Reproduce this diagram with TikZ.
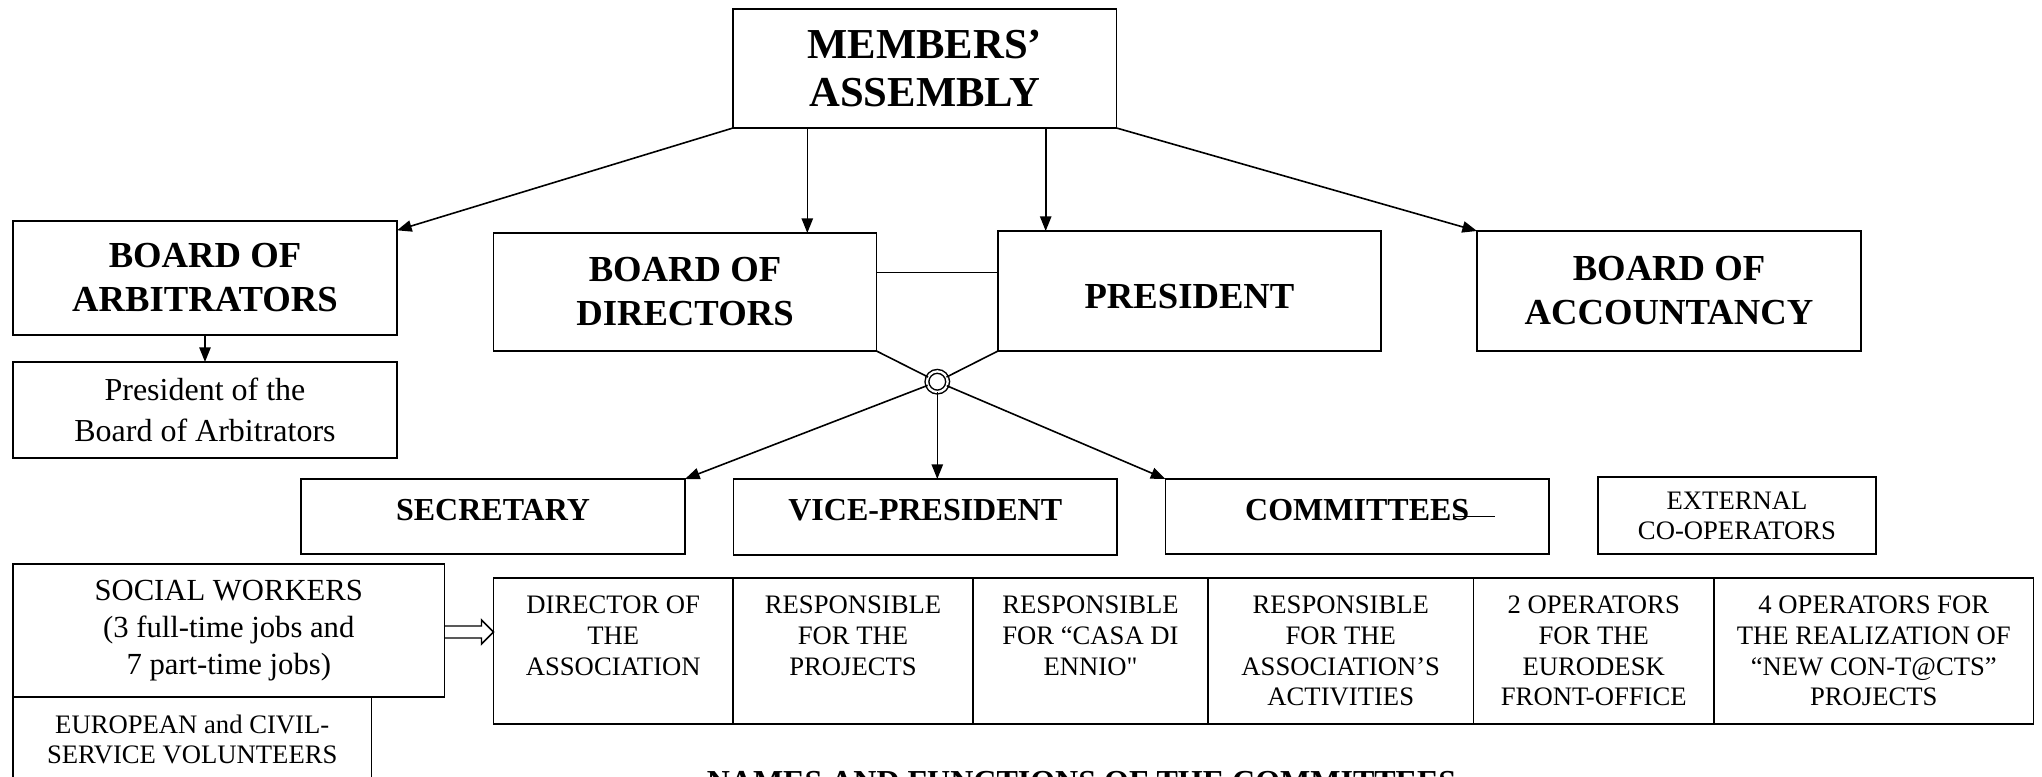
\documentclass[tikz,border=0pt]{standalone}
\usepackage{fontspec}
\setmainfont{Liberation Serif}
\usetikzlibrary{arrows.meta,calc}
\newcommand\rbox[7]{\node[box,#6,minimum width={(#4-#2)*0.75pt},minimum height={(#5-#3)*0.75pt}] (#1) at ({(#2+#4)/2},{(#3+#5)/2}) {#7};}
\begin{document}
\begin{tikzpicture}[x=0.75pt,y=-0.75pt,
  box/.style={draw, line width=1.2pt, inner sep=0pt, outer sep=0pt, align=center},
  conn/.style={line width=1.2pt},
  arr/.style={conn, -{Triangle[length=11pt,width=8.5pt]}},
  blk/.style={line width=1.1pt, line join=miter},
  junction/.style={circle, draw, double, line width=1.1pt, double distance=1.7pt, minimum size=15.5pt, inner sep=0pt, outer sep=0pt},
  fmem/.style={font=\fontsize{32}{36}\selectfont\bfseries},
  fbig/.style={font=\fontsize{27.5}{33}\selectfont\bfseries},
  fmed/.style={font=\fontsize{24}{28}\selectfont\bfseries},
  fpba/.style={font=\fontsize{24}{31}\selectfont},
  fsw/.style={font=\fontsize{23}{27.5}\selectfont},
  fsmall/.style={font=\fontsize{20}{22.5}\selectfont},
  fcell/.style={font=\fontsize{20}{23}\selectfont, align=center, anchor=north, inner sep=0pt},
]
\useasboundingbox (0,0) rectangle (2042,777);
\clip (0,0) rectangle (2042,777);

% top level
\rbox{ma}{733}{9}{1116.5}{128}{fmem}{MEMBERS’\\ASSEMBLY}
\rbox{boa}{13}{221}{397}{335}{fbig}{BOARD OF\\ARBITRATORS}
\rbox{pba}{13}{362}{397}{458}{fpba}{President of the\\Board of Arbitrators}
\rbox{bod}{493.5}{233}{876.5}{351}{fbig}{BOARD OF\\DIRECTORS}
\rbox{pres}{998}{231}{1381}{351}{fbig,text height=27pt}{PRESIDENT}
\rbox{bacc}{1477}{231}{1861}{351}{fbig}{BOARD OF\\ACCOUNTANCY}

% second level
\rbox{sec}{301}{479}{685}{554}{fmed,text depth=10.5pt}{SECRETARY}
\rbox{vp}{733.5}{479}{1117}{555}{fmed,text depth=10.5pt}{VICE-PRESIDENT}
\rbox{com}{1165.5}{479}{1549}{554}{fmed,text depth=10.5pt}{COMMITTEES}
\rbox{ext}{1598}{477}{1876}{554}{fsmall}{EXTERNAL\\CO-OPERATORS}

% staff
\rbox{sw}{13}{564}{444.5}{697}{fsw}{SOCIAL WORKERS\\(3 full-time jobs and\\7 part-time jobs)}
\rbox{eu}{13}{697}{371.5}{781}{fsmall}{EUROPEAN and CIVIL-\\SERVICE VOLUNTEERS}

% table of roles
\rbox{c1}{493.5}{578}{733}{724}{}{}
\rbox{c2}{733}{578}{973}{724}{}{}
\rbox{c3}{973}{578}{1208}{724}{}{}
\rbox{c4}{1208}{578}{1473.5}{724}{}{}
\rbox{c5}{1473.5}{578}{1714}{724}{}{}
\rbox{c6}{1714}{578}{2033.5}{724}{}{}
\coordinate (ct) at (0,596);
\node[fcell] (t1) at (c1.north |- ct) {DIRECTOR OF\\THE\\ASSOCIATION};
\node[fcell] (t2) at (c2.north |- ct) {RESPONSIBLE\\FOR THE\\PROJECTS};
\node[fcell] (t3) at (c3.north |- ct) {RESPONSIBLE\\FOR “CASA DI\\ENNIO\textquotedbl};
\node[fcell] (t4) at (c4.north |- ct) {RESPONSIBLE\\FOR THE\\ASSOCIATION’S\\ACTIVITIES};
\node[fcell] (t5) at (c5.north |- ct) {2 OPERATORS\\FOR THE\\EURODESK\\FRONT-OFFICE};
\node[fcell] (t6) at (c6.north |- ct) {4 OPERATORS FOR\\THE REALIZATION OF\\“NEW CON-T@CTS”\\PROJECTS};

\node[fmed, anchor=north, inner sep=0pt] (title) at (1081.5,771) {NAMES AND FUNCTIONS OF THE COMMITTEES};

% connectors from the assembly
\coordinate (v1) at (807.3,0);
\coordinate (v2) at (1045.7,0);
\draw[arr] (ma.south west) -- ([yshift=-7pt]boa.north east);
\draw[arr] (v1 |- ma.south) -- (v1 |- bod.north);
\draw[arr] (v2 |- ma.south) -- (v2 |- pres.north);
\draw[arr] (ma.south east) -- (bacc.north west);
\draw[arr] (boa.south) -- (pba.north);

\coordinate (hl) at (0,272.7);
\draw[conn] (bod.east |- hl) -- (pres.west |- hl);

% junction
\node[junction] (j) at (937.3,381.7) {};
\draw[conn] (bod.south east) -- (j);
\draw[conn] (pres.south west) -- (j);
\draw[arr] (j) -- (sec.north east);
\draw[arr] (j.south) -- (j.south |- vp.north);
\draw[arr] (j) -- (com.north west);

% stray stroke after COMMITTEES
\draw[line width=1pt] (1454,516.7) -- (1495,516.7);

% block arrow from social workers to the table
\coordinate (ay) at (0,632);
\coordinate (a0) at (sw.east |- ay);
\coordinate (a1) at (c1.west |- ay);
\draw[blk] ($(a0)+(0,-6)$) -- ($(a1)+(-12,-6)$) -- ($(a1)+(-12,-12)$) -- (a1) -- ($(a1)+(-12,12)$) -- ($(a1)+(-12,6)$) -- ($(a0)+(0,6)$);
\end{tikzpicture}
\end{document}
